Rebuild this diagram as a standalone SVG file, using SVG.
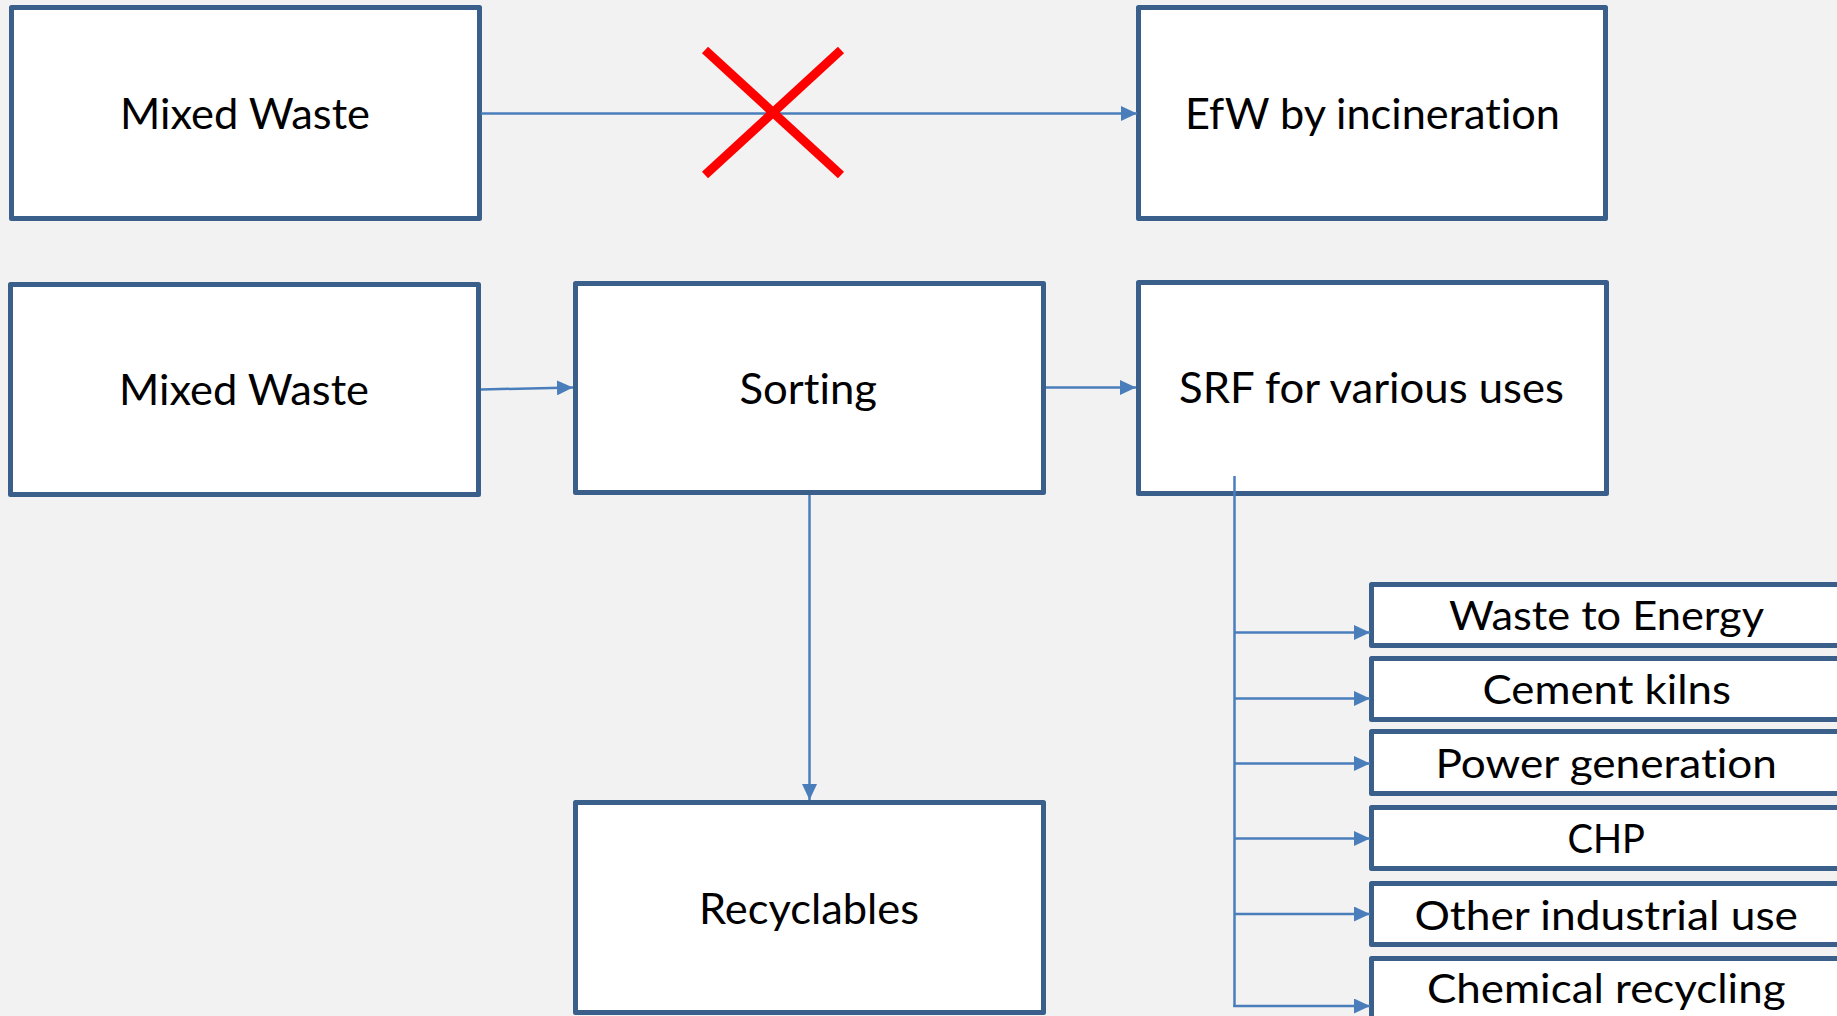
<svg xmlns="http://www.w3.org/2000/svg" width="1837" height="1016" viewBox="0 0 1837 1016">
  <style>
    .box { fill: #ffffff; stroke: #3a5f8b; stroke-width: 5; stroke-linejoin: round; }
    .lbl { font-family: Lato, "Open Sans", "Liberation Sans", sans-serif; fill: #000000; font-variant-ligatures: none; }
    .big { font-size: 43px; }
    .small { font-size: 40px; }
    .conn { fill: none; stroke: #4a7ebb; stroke-width: 2.5; }
    .cross { stroke: #ff0000; stroke-width: 9; stroke-linecap: butt; }
  </style>
  <defs>
    <marker id="arrow" markerUnits="userSpaceOnUse" markerWidth="16" markerHeight="15" refX="16" refY="7.5" orient="auto">
      <path d="M0,0 L16,7.5 L0,15 z" fill="#4a7ebb"/>
    </marker>
  </defs>

  <rect width="1837" height="1016" fill="#f2f2f2"/>

  <!-- row 1: direct incineration -->
  <g id="mixed-waste-1">
    <rect class="box" x="11.5" y="7.5" width="468" height="211"/>
    <text class="lbl big" x="120" y="129" textLength="250" lengthAdjust="spacingAndGlyphs">Mixed Waste</text>
  </g>
  <g id="efw-incineration">
    <rect class="box" x="1138.5" y="7.5" width="467" height="211"/>
    <text class="lbl big" x="1185" y="129" textLength="375" lengthAdjust="spacingAndGlyphs">EfW by incineration</text>
  </g>

  <!-- row 2: sorting route -->
  <g id="mixed-waste-2">
    <rect class="box" x="10.5" y="284.5" width="468" height="210"/>
    <text class="lbl big" x="119" y="405" textLength="250" lengthAdjust="spacingAndGlyphs">Mixed Waste</text>
  </g>
  <g id="sorting">
    <rect class="box" x="575.5" y="283.5" width="468" height="209"/>
    <text class="lbl big" x="739.5" y="404" textLength="137.5" lengthAdjust="spacingAndGlyphs">Sorting</text>
  </g>
  <g id="srf">
    <rect class="box" x="1138.5" y="282.5" width="468" height="211"/>
    <text class="lbl big" x="1179" y="403" textLength="385" lengthAdjust="spacingAndGlyphs">SRF for various uses</text>
  </g>
  <g id="recyclables">
    <rect class="box" x="575.5" y="802.5" width="468" height="210"/>
    <text class="lbl big" x="699" y="924" textLength="220" lengthAdjust="spacingAndGlyphs">Recyclables</text>
  </g>

  <!-- SRF end uses -->
  <g id="use-wte">
    <rect class="box" x="1371.5" y="584.5" width="470" height="61"/>
    <text class="lbl small" x="1449" y="630" textLength="315" lengthAdjust="spacingAndGlyphs">Waste to Energy</text>
  </g>
  <g id="use-cement">
    <rect class="box" x="1371.5" y="658.5" width="470" height="61"/>
    <text class="lbl small" x="1482.5" y="704" textLength="248.5" lengthAdjust="spacingAndGlyphs">Cement kilns</text>
  </g>
  <g id="use-power">
    <rect class="box" x="1371.5" y="731.5" width="470" height="62"/>
    <text class="lbl small" x="1435.5" y="778" textLength="341.5" lengthAdjust="spacingAndGlyphs">Power generation</text>
  </g>
  <g id="use-chp">
    <rect class="box" x="1371.5" y="807.5" width="470" height="61"/>
    <text class="lbl small" x="1567.5" y="853" textLength="77.5" lengthAdjust="spacingAndGlyphs">CHP</text>
  </g>
  <g id="use-other">
    <rect class="box" x="1371.5" y="883.5" width="470" height="61"/>
    <text class="lbl small" x="1414.5" y="930" textLength="383.5" lengthAdjust="spacingAndGlyphs">Other industrial use</text>
  </g>
  <g id="use-chemical">
    <rect class="box" x="1371.5" y="958.5" width="470" height="61"/>
    <text class="lbl small" x="1427" y="1003" textLength="358.5" lengthAdjust="spacingAndGlyphs">Chemical recycling</text>
  </g>

  <!-- connectors -->
  <g id="connectors">
    <line class="conn" x1="481" y1="113.5" x2="1137" y2="113.5" marker-end="url(#arrow)"/>
    <line class="conn" x1="481" y1="389.5" x2="573" y2="387.5" marker-end="url(#arrow)"/>
    <line class="conn" x1="1046" y1="387.5" x2="1136" y2="387.5" marker-end="url(#arrow)"/>
    <line class="conn" x1="809.5" y1="495" x2="809.5" y2="800" marker-end="url(#arrow)"/>
    <path class="conn" d="M1234.5,476 V1007"/>
    <line class="conn" x1="1234.5" y1="632.5" x2="1370" y2="632.5" marker-end="url(#arrow)"/>
    <line class="conn" x1="1234.5" y1="698.5" x2="1370" y2="698.5" marker-end="url(#arrow)"/>
    <line class="conn" x1="1234.5" y1="763.5" x2="1370" y2="763.5" marker-end="url(#arrow)"/>
    <line class="conn" x1="1234.5" y1="838.5" x2="1370" y2="838.5" marker-end="url(#arrow)"/>
    <line class="conn" x1="1234.5" y1="914" x2="1370" y2="914" marker-end="url(#arrow)"/>
    <line class="conn" x1="1233.3" y1="1006" x2="1370" y2="1006" marker-end="url(#arrow)"/>
  </g>

  <!-- red cross striking out the direct route -->
  <g id="strike">
    <line class="cross" x1="705" y1="50" x2="841" y2="175"/>
    <line class="cross" x1="841" y1="50" x2="705" y2="175"/>
  </g>
</svg>
